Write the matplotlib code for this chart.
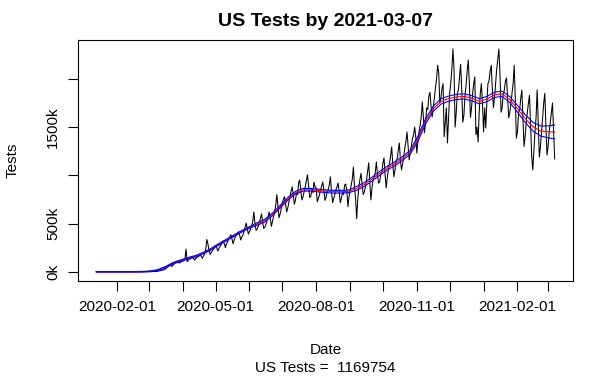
import matplotlib
matplotlib.use('Agg')
import matplotlib.pyplot as plt
import pandas as pd

plt.rcParams['font.family'] = ['Liberation Sans', 'DejaVu Sans']

# daily tests (thousands), one row per week Mon..Sun, from 2020-01-13
tests_k = [
    0, 0, 0, 0, 0, 0, 0,
    0, 0, 0, 0, 0, 0, 0,
    0, 0, 0, 0, 0, 0, 0,
    0, 0, 0, 0, 0, 0, 0,
    0, 0, 0, 0, 0, 0, 0,
    0, 0, 0, 0, 0, 0, 0,
    0, 0, 0, 0, 0, 0, 1,
    1, 1, 2, 2, 3, 3, 3,
    5, 6, 9, 12, 16, 20, 18,
    30, 40, 50, 60, 75, 65, 55,
    70, 80, 95, 105, 110, 100, 90,
    100, 105, 110, 120, 130, 235, 105,
    120, 130, 140, 145, 150, 135, 120,
    140, 150, 155, 165, 175, 160, 140,
    165, 180, 230, 335, 290, 220, 180,
    200, 215, 235, 255, 275, 250, 215,
    240, 260, 280, 300, 320, 290, 250,
    290, 310, 340, 360, 385, 340, 290,
    330, 360, 380, 400, 415, 380, 330,
    360, 380, 420, 460, 505, 450, 390,
    420, 440, 480, 520, 620, 500, 430,
    440, 470, 510, 550, 600, 520, 450,
    460, 490, 530, 570, 620, 560, 470,
    520, 570, 620, 690, 800, 680, 560,
    600, 650, 710, 750, 780, 700, 620,
    660, 720, 780, 830, 880, 800, 700,
    740, 820, 800, 930, 950, 830, 745,
    780, 830, 880, 940, 1005, 900, 770,
    780, 850, 820, 930, 880, 870, 725,
    760, 800, 850, 890, 930, 850, 740,
    770, 830, 850, 900, 985, 830, 715,
    760, 800, 850, 880, 920, 830, 715,
    760, 820, 800, 900, 910, 840, 675,
    780, 840, 900, 960, 1085, 880, 760,
    550, 750, 880, 960, 1020, 900, 800,
    830, 880, 950, 1040, 1130, 920, 745,
    870, 960, 980, 1030, 1140, 1010, 920,
    930, 1010, 1030, 1130, 1180, 1000, 870,
    980, 1060, 1120, 1200, 1295, 1120, 985,
    1050, 1150, 1170, 1260, 1335, 1150, 1055,
    1120, 1200, 1280, 1350, 1450, 1300, 1160,
    1250, 1300, 1380, 1420, 1500, 1400, 1230,
    1350, 1450, 1520, 1600, 1760, 1600, 1440,
    1550, 1700, 1680, 1820, 1860, 1720, 1605,
    1700, 1800, 1900, 2000, 2140, 2060, 1750,
    1800, 1900, 1950, 1400, 1550, 1700, 1335,
    1600, 1850, 1950, 2100, 2310, 2100, 1500,
    1650, 1850, 1880, 2020, 2150, 1900, 1550,
    1620, 1820, 1930, 2080, 2195, 1960, 1600,
    1700, 1850, 1950, 2020, 1420, 1500, 1345,
    1650, 1850, 1950, 1750, 1450, 1700, 1490,
    1750, 1950, 1980, 2080, 2140, 1900, 1700,
    1800, 1950, 2100, 2200, 2310, 2050, 1655,
    1700, 1850, 1880, 1980, 2010, 1800, 1595,
    1650, 1750, 1850, 1950, 2140, 1800, 1385,
    1450, 1650, 1680, 1800, 1885, 1600, 1300,
    1400, 1550, 1650, 1750, 1830, 1500, 1200,
    1055, 1250, 1450, 1600, 1885, 1550, 1190,
    1300, 1450, 1600, 1750, 1850, 1500, 1210,
    1300, 1450, 1550, 1650, 1750, 1450, 1169.754,
]

# smoothed fit (thousands) at each Monday plus the last day, and its band half-width
smooth_k = [0, 0, 0, 0, 0, 0, 1, 5, 18, 45,
            88, 115, 140, 162, 195, 235, 285, 330, 375, 420,
            460, 495, 530, 595, 675, 755, 820, 850, 850, 842,
            835, 830, 830, 835, 865, 905, 960, 1020, 1075, 1120,
            1175, 1240, 1380, 1560, 1690, 1765, 1795, 1812, 1818, 1800,
            1768, 1790, 1835, 1845, 1785, 1690, 1590, 1505, 1460, 1450,
            1450]
band_k = [3, 3, 3, 3, 3, 3, 3, 3, 3, 8,
          8, 8, 8, 8, 8, 8, 8, 8, 8, 8,
          8, 14, 14, 14, 14, 14, 14, 14, 14, 14,
          14, 14, 14, 14, 20, 20, 20, 20, 20, 20,
          20, 20, 27, 27, 27, 27, 27, 27, 27, 27,
          27, 27, 27, 27, 30, 35, 40, 45, 52, 62,
          72]

tick_dates = ['2020-02-01', '2020-03-01', '2020-04-01', '2020-05-01', '2020-06-01',
              '2020-07-01', '2020-08-01', '2020-09-01', '2020-10-01', '2020-11-01',
              '2020-12-01', '2021-01-01', '2021-02-01', '2021-03-01']
tick_labels = ['2020-02-01', '', '', '2020-05-01', '', '', '2020-08-01', '', '',
               '2020-11-01', '', '', '2021-02-01', '']
y_ticks = [0, 500000, 1000000, 1500000, 2000000]
y_labels = ['0k', '500k', '', '1500k', '']

tests = pd.Series(tests_k) * 1000
dates = pd.date_range('2020-01-13', periods=len(tests), freq='D')
smooth_dates = list(pd.date_range('2020-01-13', periods=60, freq='7D')) + [dates[-1]]
smooth = pd.Series(smooth_k) * 1000
band = pd.Series(band_k) * 1000

fig = plt.figure(figsize=(6.14, 3.79), dpi=100)
ax = fig.add_axes([78 / 614, 1 - 281 / 379, 495 / 614, 241 / 379])

ax.plot(dates, tests, color='black', linewidth=0.75)
ax.plot(smooth_dates, smooth, color='red', linewidth=0.8)
ax.plot(smooth_dates, smooth + band, color='blue', linewidth=0.8)
ax.plot(smooth_dates, smooth - band, color='blue', linewidth=0.8)
ax.margins(x=0.04, y=0.04)

ax.set_xticks(pd.to_datetime(tick_dates))
ax.set_xticklabels(tick_labels)
ax.set_yticks(y_ticks)
ax.set_yticklabels(y_labels, rotation=90, va='center')
ax.tick_params(axis='both', length=7.5, width=0.8, labelsize=11, color='black')
ax.tick_params(axis='x', pad=6.5)
ax.tick_params(axis='y', pad=5.5)
for s in ax.spines.values():
    s.set_linewidth(0.8)

fig.text(325.5 / 614, 1 - 21.5 / 379, 'US Tests by 2021-03-07', ha='center', va='center',
         fontsize=14, fontweight='bold')
fig.text(12.5 / 614, 1 - 160.5 / 379, 'Tests', rotation=90, ha='center', va='center', fontsize=11)
fig.text(325.5 / 614, 1 - 350 / 379, 'Date', ha='center', va='center', fontsize=11)
fig.text(325.5 / 614, 1 - 368 / 379, 'US Tests =  %d' % round(tests.iloc[-1]),
         ha='center', va='center', fontsize=11)

fig.savefig('out.png', dpi=100)
